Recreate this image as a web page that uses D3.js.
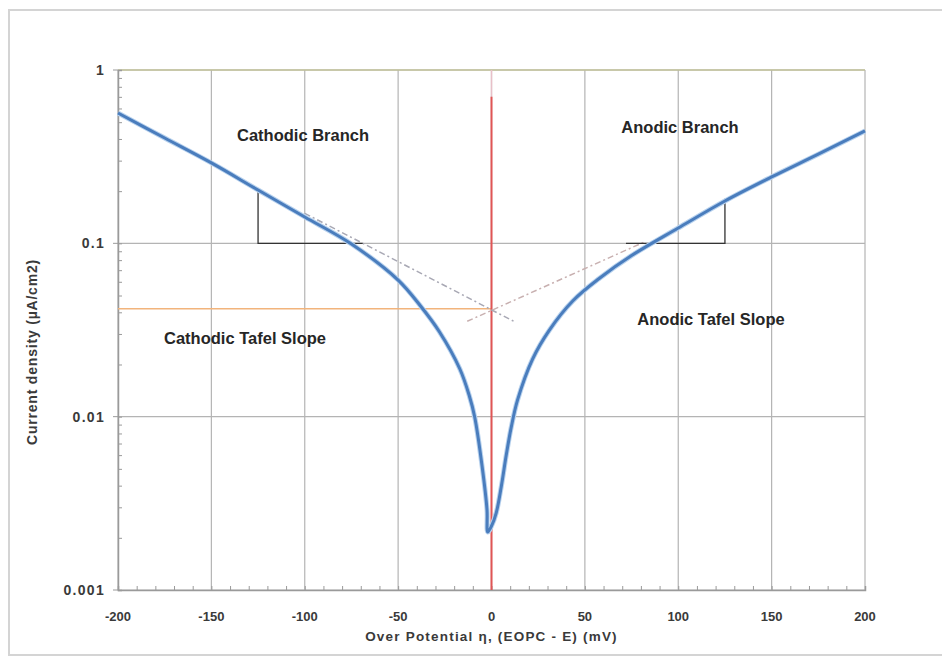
<!DOCTYPE html>
<html><head><meta charset="utf-8">
<script src="https://cdn.jsdelivr.net/npm/d3@7"></script>
<style>body{margin:0;background:#fff}svg{display:block}</style>
</head><body>
<script>
// ---- data ----
const etaValues = [-200,-175,-150,-125,-100,-75,-50,-38,-28,-17,-12,-9,-5,-2.4,-2,0,2.5,5.2,7.9,10.5,14,22,31,43.5,58,75,100,125,150,175,200];
const currentValues = [0.565,0.405,0.291,0.203,0.142,0.0991,0.0614,0.0435,0.031,0.0189,0.01333,0.00995,0.00514,0.00289,0.00216,0.00234,0.00278,0.00393,0.00600,0.00862,0.01253,0.0215,0.0316,0.0465,0.0631,0.0850,0.1226,0.1755,0.2415,0.327,0.445];
const cathodicTafelEta = [-100, 13];
const cathodicTafelI = [0.149, 0.035];
const anodicTafelEta = [-13, 82];
const anodicTafelI = [0.0355, 0.102];
const icorr = 0.042;
const cathTriEta = [-125, -125, -69];
const cathTriI = [0.205, 0.1, 0.1];
const anTriEta = [72, 125, 125];
const anTriI = [0.1, 0.1, 0.181];
const xTicks = [-200,-150,-100,-50,0,50,100,150,200];
const yTicks = [1,0.1,0.01,0.001];
const yTickLabels = ["1","0.1","0.01","0.001"];

const W=942,H=660, m={l:118,r:77,t:70,b:70};
const svg=d3.select("body").append("svg").attr("width",W).attr("height",H);
svg.append("rect").attr("x",9).attr("y",10).attr("width",945).attr("height",645)
  .attr("fill","#fff").attr("stroke","#d4d4d4").attr("stroke-width",2);

const x=d3.scaleLinear().domain([-200,200]).range([m.l,W-m.r]);
const y=d3.scaleLog().domain([0.001,1]).range([H-m.b,m.t]);
const g=svg.append("g");
const font="'Liberation Sans', Arial, sans-serif";

// grid
g.selectAll(".vg").data(xTicks).join("line").attr("x1",d=>x(d)).attr("x2",d=>x(d))
  .attr("y1",y(1)).attr("y2",y(0.001)).attr("stroke","#b4b4b4").attr("stroke-width",1.2);
g.selectAll(".hg").data(yTicks).join("line").attr("x1",x(-200)).attr("x2",x(200))
  .attr("y1",d=>y(d)).attr("y2",d=>y(d)).attr("stroke","#b4b4b4").attr("stroke-width",1.2);
g.append("line").attr("x1",x(-200)).attr("x2",x(200)).attr("y1",y(1)).attr("y2",y(1))
  .attr("stroke","#c2c29a").attr("stroke-width",1.5);

// axes with minor ticks
const xAxis=d3.axisBottom(x).tickValues(d3.range(-200,201,10)).tickSize(-4).tickFormat("");
g.append("g").attr("transform",`translate(0,${y(0.001)})`).call(xAxis)
  .call(s=>{s.select(".domain").attr("stroke","#9a9a9a").attr("stroke-width",1.5);s.selectAll(".tick line").attr("stroke","#9a9a9a");});
const minorY=[];for(let e=-3;e<0;e++)for(let k=1;k<10;k++)minorY.push(k*Math.pow(10,e));minorY.push(1);
const yAxis=d3.axisLeft(y).tickValues(minorY).tickSize(-4).tickFormat("");
g.append("g").attr("transform",`translate(${x(-200)},0)`).call(yAxis)
  .call(s=>{s.select(".domain").attr("stroke","#9a9a9a").attr("stroke-width",1.5);s.selectAll(".tick line").attr("stroke","#9a9a9a");});
g.selectAll(".ymaj").data(yTicks).join("line").attr("x1",x(-200)-5).attr("x2",x(-200))
  .attr("y1",d=>y(d)).attr("y2",d=>y(d)).attr("stroke","#9a9a9a");

// tick labels
g.selectAll(".xl").data(xTicks).join("text").attr("x",d=>x(d)).attr("y",y(0.001)+31)
  .attr("text-anchor","middle").attr("font-family",font).attr("font-size",13).attr("font-weight","bold")
  .attr("fill","#3a3a3a").text(d=>d);
g.selectAll(".yl").data(yTicks).join("text").attr("x",x(-200)-13).attr("y",d=>y(d)+5)
  .attr("text-anchor","end").attr("font-family",font).attr("font-size",14).attr("font-weight","bold")
  .attr("letter-spacing","1.3px").attr("fill","#3a3a3a").text((d,i)=>yTickLabels[i]);

// orange icorr line
g.append("line").attr("x1",x(-200)).attr("x2",x(0)).attr("y1",y(icorr)).attr("y2",y(icorr))
  .attr("stroke","#f2b47c").attr("stroke-width",1.5);

// red line
g.append("line").attr("x1",x(0)).attr("x2",x(0)).attr("y1",y(1)).attr("y2",y(0.7))
  .attr("stroke","#e8c0c8").attr("stroke-width",1.5);
g.append("line").attr("x1",x(0)).attr("x2",x(0)).attr("y1",y(0.7)).attr("y2",y(0.001))
  .attr("stroke","#e05555").attr("stroke-width",2);

// Tafel dashed lines
const ln=d3.line().x(d=>x(d[0])).y(d=>y(d[1]));
g.append("path").attr("d",ln(d3.zip(cathodicTafelEta,cathodicTafelI))).attr("fill","none")
  .attr("stroke","#a8a8b4").attr("stroke-width",1.5).attr("stroke-dasharray","6,3,2,3");
g.append("path").attr("d",ln(d3.zip(anodicTafelEta,anodicTafelI))).attr("fill","none")
  .attr("stroke","#c8b0b0").attr("stroke-width",1.5).attr("stroke-dasharray","6,3,2,3");

// triangles
g.append("path").attr("d",ln(d3.zip(cathTriEta,cathTriI))).attr("fill","none").attr("stroke","#333").attr("stroke-width",1.3);
g.append("path").attr("d",ln(d3.zip(anTriEta,anTriI))).attr("fill","none").attr("stroke","#333").attr("stroke-width",1.3);

// curve
const curve=d3.line().x(d=>x(d[0])).y(d=>y(d[1])).curve(d3.curveCatmullRom.alpha(0.5));
const pts=d3.zip(etaValues,currentValues);
g.append("path").attr("d",curve(pts)).attr("fill","none").attr("stroke","#b8d2ee").attr("stroke-width",5).attr("stroke-linejoin","round");
g.append("path").attr("d",curve(pts)).attr("fill","none").attr("stroke","#4a7dbd").attr("stroke-width",3).attr("stroke-linejoin","round");

// annotations
const ann=[["Cathodic Branch",303,141],["Anodic Branch",680,133],["Cathodic Tafel Slope",245,344],["Anodic Tafel Slope",711,325]];
g.selectAll(".ann").data(ann).join("text").attr("x",d=>d[1]).attr("y",d=>d[2]).attr("text-anchor","middle")
  .attr("font-family",font).attr("font-size",16.5).attr("font-weight","bold").attr("fill","#262626").text(d=>d[0]);

// axis titles
svg.append("text").attr("transform",`translate(37,352) rotate(-90)`).attr("text-anchor","middle")
  .attr("font-family",font).attr("font-size",14).attr("font-weight","bold").attr("letter-spacing","0.8px").attr("fill","#3a3a3a").text("Current density (µA/cm2)");
svg.append("text").attr("x",x(0)).attr("y",641).attr("text-anchor","middle")
  .attr("font-family",font).attr("font-size",13.5).attr("font-weight","bold").attr("letter-spacing","1.2px").attr("fill","#3a3a3a").text("Over Potential η, (EOPC - E)  (mV)");
</script>
</body></html>
